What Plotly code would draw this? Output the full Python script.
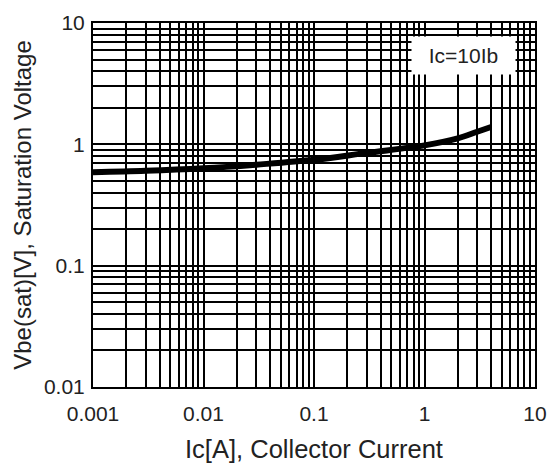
import plotly.graph_objects as go

ic = [0.001, 0.003, 0.01, 0.03, 0.1, 0.3, 1, 2, 3, 4]
vbe = [0.59, 0.605, 0.635, 0.68, 0.745, 0.85, 0.98, 1.12, 1.27, 1.39]

x_ticks = [0.001, 0.01, 0.1, 1, 10]
x_text = ["0.001", "0.01", "0.1", "1", "10"]
y_ticks = [0.01, 0.1, 1, 10]
y_text = ["0.01", "0.1", "1", "10"]

FONT = "Liberation Sans, Arial, sans-serif"

fig = go.Figure()
fig.add_trace(go.Scatter(x=ic, y=vbe, mode="lines",
                         line=dict(color="black", width=6, shape="spline", smoothing=1.0),
                         showlegend=False, hoverinfo="skip"))

axis_common = dict(
    type="log",
    showgrid=True, gridcolor="black", gridwidth=1.5,
    showline=True, linecolor="black", linewidth=2, mirror=True,
    ticks="outside", tickcolor="rgba(0,0,0,0)",
    tickfont=dict(family=FONT, size=21, color="#222"),
    minor=dict(dtick="D1", showgrid=True, gridcolor="black", gridwidth=1.5, ticks=""),
    zeroline=False,
)

fig.update_xaxes(**axis_common, ticklen=7, range=[-3, 1], tickvals=x_ticks, ticktext=x_text,
                 title=dict(text="Ic[A], Collector Current",
                            font=dict(family=FONT, size=25.5, color="#222"), standoff=16))
fig.update_yaxes(**axis_common, ticklen=2, range=[-2, 1], tickvals=y_ticks, ticktext=y_text,
                 title=dict(text="Vbe(sat)[V], Saturation Voltage",
                            font=dict(family=FONT, size=24, color="#222"), standoff=6))

fig.add_annotation(x=0.838, y=0.91, xref="paper", yref="paper",
                   text="Ic=10Ib", showarrow=False,
                   font=dict(family=FONT, size=21, color="#222"),
                   bgcolor="white", width=101, height=35,
                   xanchor="center", yanchor="middle")

fig.update_layout(
    width=558, height=470,
    margin=dict(l=93, r=11, t=17, b=78),
    paper_bgcolor="white", plot_bgcolor="white",
)

fig.write_html("out.html")
